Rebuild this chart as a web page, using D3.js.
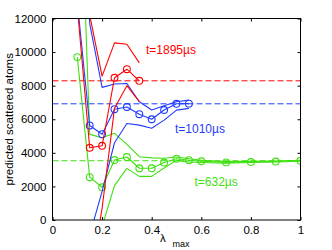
<!DOCTYPE html>
<html>
<head>
<meta charset="utf-8">
<script src="https://cdn.jsdelivr.net/npm/d3@7"></script>
<style>
  html, body { margin: 0; padding: 0; background: #fff; }
  svg { display: block; }
  text { font-family: "Liberation Sans", Arial, Helvetica, sans-serif; }
</style>
</head>
<body>
<svg id="chart" width="332" height="250"></svg>
<script>
// ---- data ----
const lambda = [0.1, 0.15, 0.2, 0.25, 0.3, 0.35, 0.4, 0.45, 0.5, 0.55, 0.6, 0.7, 0.8, 0.9, 1.0];

const redMean  = [12700, 4300, 4420, 8470, 8980, 8290];
const redUpper = [30000, 12200, 8570, 10550, 10470, 9360];
const redLower = [-5000, -3800, 700, 6650, 8000, 7050];

const blueMean  = [13000, 5630, 5110, 6600, 6730, 6300, 6000, 6550, 6920, 6930];
const blueUpper = [30000, 11700, 7900, 8100, 8130, 7040, 6550, 6800, 7040, 7140];
const blueLower = [-4000, -900, 1700, 4600, 5750, 5650, 5460, 5950, 6545, 6650];

const greenMean  = [9700, 2550, 1950, 3570, 3750, 3080, 3080, 3420, 3650, 3560, 3500, 3430, 3450, 3480, 3530];
const greenUpper = [26000, 5100, 4900, 5160, 4500, 3770, 3700, 3680, 3750, 3650, 3560, 3480, 3490, 3510, 3560];
const greenLower = [-6600, -800, -400, 2050, 3075, 2600, 2600, 3100, 3550, 3450, 3420, 3380, 3420, 3450, 3500];

const asymptotes = [8290, 6920, 3530];
const seriesLabels = ["t=1895\u00b5s", "t=1010\u00b5s", "t=632\u00b5s"];
const xTicks = [0, 0.2, 0.4, 0.6, 0.8, 1];
const yTicks = [0, 2000, 4000, 6000, 8000, 10000, 12000];
const yLabel = "predicted scattered atoms";

// ---- layout ----
const colors = ["#ff0000", "#1f3cff", "#3fe010"];
const M = { left: 52.5, top: 18.5, right: 31.5, bottom: 30 };
const W = 332, H = 250;
const iw = W - M.left - M.right, ih = H - M.top - M.bottom;

const svg = d3.select("#chart");
const x = d3.scaleLinear().domain([0, 1]).range([0, iw]);
const y = d3.scaleLinear().domain([0, 12000]).range([ih, 0]);

const g = svg.append("g").attr("transform", `translate(${M.left},${M.top})`);

g.append("defs").append("clipPath").attr("id", "clip")
  .append("rect").attr("x", 0).attr("y", 0).attr("width", iw).attr("height", ih);

const plot = g.append("g").attr("clip-path", "url(#clip)");

const line = d3.line().x(d => x(d[0])).y(d => y(d[1]));
const zipS = vals => vals.map((v, i) => [lambda[i], v]);

const groups = [
  { mean: redMean, up: redUpper, lo: redLower },
  { mean: blueMean, up: blueUpper, lo: blueLower },
  { mean: greenMean, up: greenUpper, lo: greenLower }
];

// dashed asymptotes
asymptotes.forEach((a, i) => {
  plot.append("line")
    .attr("x1", x(0)).attr("x2", x(1))
    .attr("y1", y(a)).attr("y2", y(a))
    .attr("stroke", colors[i]).attr("stroke-width", 1)
    .attr("stroke-dasharray", "6,3");
});

// draw series: green first, then blue, then red on top
[2, 1, 0].forEach(i => {
  const s = groups[i];
  [s.up, s.lo, s.mean].forEach(vals => {
    plot.append("path").datum(zipS(vals))
      .attr("d", line).attr("fill", "none")
      .attr("stroke", colors[i]).attr("stroke-width", 1.1)
      .attr("stroke-linejoin", "round");
  });
  plot.selectAll(null).data(zipS(s.mean)).enter().append("circle")
    .attr("cx", d => x(d[0])).attr("cy", d => y(d[1]))
    .attr("r", 3.4).attr("fill", "none")
    .attr("stroke", colors[i]).attr("stroke-width", 1.1);
});

// axes (inward ticks, box)
const fs = "11.5px";
const ax = (gen) => gen.tickSizeInner(-3).tickSizeOuter(0);
const xb = g.append("g").attr("transform", `translate(0,${ih})`)
  .call(ax(d3.axisBottom(x).tickValues(xTicks).tickFormat(d3.format("~g"))).tickPadding(6));
const xt = g.append("g")
  .call(ax(d3.axisTop(x).tickValues(xTicks).tickFormat("")));
const yl = g.append("g")
  .call(ax(d3.axisLeft(y).tickValues(yTicks).tickFormat(d3.format("d"))).tickPadding(6));
const yr = g.append("g").attr("transform", `translate(${iw},0)`)
  .call(ax(d3.axisRight(y).tickValues(yTicks).tickFormat("")));
[xb, xt, yl, yr].forEach(a => {
  a.select(".domain").remove();
  a.selectAll("line").attr("stroke", "#000");
  a.selectAll("text").attr("fill", "#000").style("font-size", fs)
    .style("font-family", '"Liberation Sans", Arial, sans-serif');
});
g.append("rect").attr("x", 0).attr("y", 0).attr("width", iw).attr("height", ih)
  .attr("fill", "none").attr("stroke", "#000").attr("stroke-width", 1);

// series labels
const labelPos = [[146, 54], [175, 133], [194.5, 186]];
seriesLabels.forEach((t, i) => {
  svg.append("text").attr("x", labelPos[i][0]).attr("y", labelPos[i][1])
    .attr("fill", colors[i]).style("font-size", "12px").text(t);
});

// axis labels
svg.append("text")
  .attr("transform", `translate(12.5,${M.top + ih / 2}) rotate(-90)`)
  .attr("text-anchor", "middle").style("font-size", fs).attr("fill", "#000")
  .text(yLabel);

const xl = svg.append("text").attr("fill", "#000");
xl.append("tspan").attr("x", 160).attr("y", 241.5).style("font-size", fs).text("\u03bb");
xl.append("tspan").attr("x", 172.5).attr("y", 246.5).style("font-size", "9px").text("max");
</script>
</body>
</html>
